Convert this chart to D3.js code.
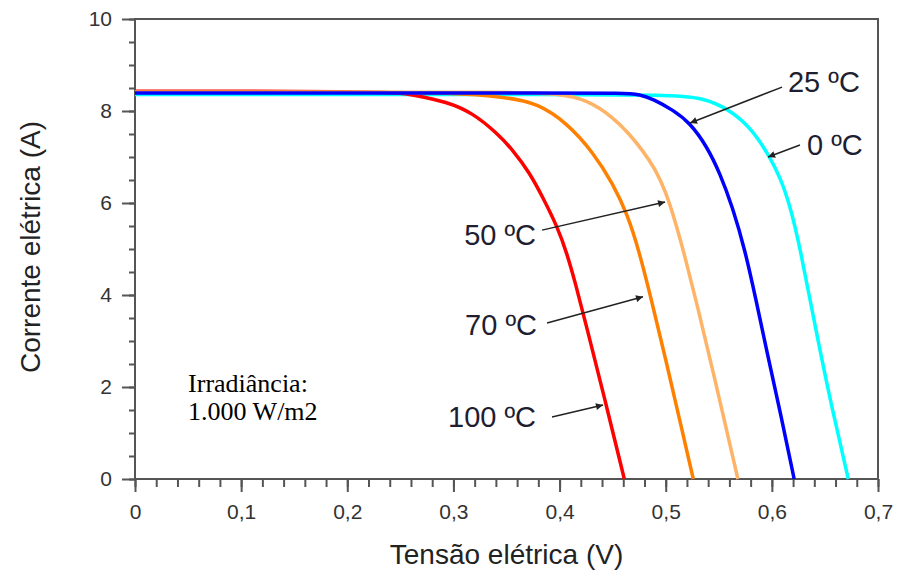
<!DOCTYPE html>
<html>
<head>
<meta charset="utf-8">
<script src="https://cdn.jsdelivr.net/npm/d3@7"></script>
<style>
  body { margin: 0; background: #fff; }
  svg { display: block; }
</style>
</head>
<body>
<svg id="chart" width="900" height="576"></svg>
<script>
// curves: voltage (V) and current (A)
const v0 = [0, 0.2, 0.4, 0.5, 0.535, 0.561, 0.582, 0.598, 0.608, 0.617, 0.626, 0.642, 0.656, 0.672];
const i0 = [8.36, 8.36, 8.36, 8.35, 8.3, 8.02, 7.59, 7.0, 6.55, 5.95, 5.1, 3.17, 1.6, 0];

const v25 = [0, 0.2, 0.4, 0.46, 0.476, 0.488, 0.507, 0.523, 0.539, 0.551, 0.563, 0.575, 0.585, 0.595, 0.608, 0.621];
const i25 = [8.39, 8.39, 8.39, 8.39, 8.36, 8.26, 8.02, 7.74, 7.22, 6.65, 5.91, 4.95, 3.9, 2.8, 1.45, 0];

const v50 = [0, 0.2, 0.35, 0.4, 0.426, 0.45, 0.465, 0.478, 0.49, 0.5, 0.509, 0.518, 0.53, 0.545, 0.568];
const i50 = [8.41, 8.41, 8.41, 8.38, 8.24, 7.87, 7.52, 7.15, 6.75, 6.25, 5.6, 4.85, 3.75, 2.3, 0];

const v70 = [0, 0.2, 0.3, 0.35, 0.379, 0.407, 0.432, 0.45, 0.464, 0.475, 0.487, 0.5, 0.513, 0.526];
const i70 = [8.41, 8.41, 8.4, 8.3, 8.17, 7.74, 7.09, 6.43, 5.75, 4.95, 3.85, 2.6, 1.3, 0];

const v100 = [0, 0.1, 0.2, 0.25, 0.262, 0.294, 0.318, 0.341, 0.356, 0.372, 0.384, 0.398, 0.407, 0.415, 0.425, 0.443, 0.461];
const i100 = [8.43, 8.43, 8.42, 8.4, 8.35, 8.2, 7.96, 7.52, 7.15, 6.65, 6.13, 5.48, 4.9, 4.25, 3.35, 1.7, 0];

const xTicks = [0, 0.1, 0.2, 0.3, 0.4, 0.5, 0.6, 0.7];
const yTicks = [0, 2, 4, 6, 8, 10];

// labels with arrows, in data units: label anchor, arrow start, arrow tip
const notes = [
  { text: "25 ºC",  anchor: "start", lx: 0.6152, ly: 8.41, x1: 0.6096, y1: 8.52, x2: 0.5229, y2: 7.74 },
  { text: "0 ºC",   anchor: "start", lx: 0.6331, ly: 7.04, x1: 0.6265, y1: 7.26, x2: 0.5964, y2: 7.0 },
  { text: "50 ºC",  anchor: "end",   lx: 0.3778, ly: 5.09, x1: 0.3835, y1: 5.41, x2: 0.4994, y2: 6.02 },
  { text: "70 ºC",  anchor: "end",   lx: 0.3787, ly: 3.13, x1: 0.3882, y1: 3.39, x2: 0.4786, y2: 3.96 },
  { text: "100 ºC", anchor: "end",   lx: 0.3778, ly: 1.13, x1: 0.3929, y1: 1.35, x2: 0.4409, y2: 1.61 }
];

const series = [
  { v: v0, i: i0, color: "#00ffff" },
  { v: v100, i: i100, color: "#ff0000" },
  { v: v70, i: i70, color: "#ff8000" },
  { v: v50, i: i50, color: "#ffb366" },
  { v: v25, i: i25, color: "#0000ff" }
];

const svg = d3.select("#chart");
const plotL = 135, plotR = 878, plotT = 19, plotB = 479;

const x = d3.scaleLinear().domain([0, 0.7]).range([plotL, plotR]);
const y = d3.scaleLinear().domain([0, 10]).range([plotB, plotT]);

const pt = d3.formatLocale({ decimal: ",", thousands: ".", grouping: [3], currency: ["", ""] });
const fmtX = v => v === 0 ? "0" : pt.format(".1f")(v);

const axisColor = "#555";
const labelFont = "'Liberation Sans', Arial, sans-serif";

// minor ticks
svg.append("g")
  .attr("transform", `translate(0,${plotB})`)
  .call(d3.axisBottom(x).tickValues(d3.range(0, 36).map(k => k * 0.02)).tickSize(8).tickFormat(""))
  .call(g => g.select(".domain").remove())
  .call(g => g.selectAll("line").attr("stroke", axisColor).attr("stroke-width", 2));

svg.append("g")
  .attr("transform", `translate(${plotL},0)`)
  .call(d3.axisLeft(y).tickValues(d3.range(0, 21).map(k => k * 0.5)).tickSize(6).tickFormat(""))
  .call(g => g.select(".domain").remove())
  .call(g => g.selectAll("line").attr("stroke", axisColor).attr("stroke-width", 2));

// major ticks
svg.append("g")
  .attr("transform", `translate(0,${plotB})`)
  .call(d3.axisBottom(x).tickValues(xTicks).tickSize(13).tickPadding(12).tickFormat(fmtX))
  .call(g => g.select(".domain").remove())
  .call(g => g.selectAll("line").attr("stroke", axisColor).attr("stroke-width", 2))
  .call(g => g.selectAll("text").attr("fill", "#333").attr("font-size", 21).attr("font-family", labelFont));

svg.append("g")
  .attr("transform", `translate(${plotL},0)`)
  .call(d3.axisLeft(y).tickValues(yTicks).tickSize(13).tickPadding(10).tickFormat(d3.format("d")))
  .call(g => g.select(".domain").remove())
  .call(g => g.selectAll("line").attr("stroke", axisColor).attr("stroke-width", 2))
  .call(g => g.selectAll("text").attr("fill", "#333").attr("font-size", 21).attr("font-family", labelFont));

// frame
svg.append("rect")
  .attr("x", plotL).attr("y", plotT)
  .attr("width", plotR - plotL).attr("height", plotB - plotT)
  .attr("fill", "none").attr("stroke", axisColor).attr("stroke-width", 2);

// curves
const line = d3.line().curve(d3.curveBasis);
svg.append("g")
  .selectAll("path")
  .data(series)
  .enter()
  .append("path")
  .attr("d", s => line(s.v.map((v, k) => [x(v), y(s.i[k])])))
  .attr("fill", "none")
  .attr("stroke", s => s.color)
  .attr("stroke-width", 3.5);

// arrows
svg.append("defs").append("marker")
  .attr("id", "head")
  .attr("viewBox", "0 0 10 10")
  .attr("refX", 10).attr("refY", 5)
  .attr("markerWidth", 9).attr("markerHeight", 7)
  .attr("markerUnits", "userSpaceOnUse")
  .attr("orient", "auto")
  .append("path")
  .attr("d", "M0,0 L10,5 L0,10 Z")
  .attr("fill", "#222");

const noteG = svg.append("g");
noteG.selectAll("line")
  .data(notes)
  .enter()
  .append("line")
  .attr("x1", d => x(d.x1)).attr("y1", d => y(d.y1))
  .attr("x2", d => x(d.x2)).attr("y2", d => y(d.y2))
  .attr("stroke", "#222")
  .attr("stroke-width", 1.5)
  .attr("marker-end", "url(#head)");

noteG.selectAll("text")
  .data(notes)
  .enter()
  .append("text")
  .attr("x", d => x(d.lx)).attr("y", d => y(d.ly))
  .attr("text-anchor", d => d.anchor)
  .attr("font-family", labelFont)
  .attr("font-size", 29)
  .attr("fill", "#1e1e30")
  .text(d => d.text);

// irradiance note
const irr = svg.append("text")
  .attr("font-family", "'Liberation Serif', 'Times New Roman', serif")
  .attr("font-size", 26)
  .attr("fill", "#000");
irr.append("tspan").attr("x", x(0.05)).attr("y", y(1.89)).text("Irradiância:");
irr.append("tspan").attr("x", x(0.05)).attr("y", y(1.28)).text("1.000 W/m2");

// axis titles
svg.append("text")
  .attr("x", (plotL + plotR) / 2).attr("y", 564)
  .attr("text-anchor", "middle")
  .attr("font-family", labelFont).attr("font-size", 28)
  .attr("fill", "#222")
  .text("Tensão elétrica (V)");

svg.append("text")
  .attr("transform", "translate(40,247) rotate(-90)")
  .attr("text-anchor", "middle")
  .attr("font-family", labelFont).attr("font-size", 28)
  .attr("fill", "#222")
  .text("Corrente elétrica (A)");
</script>
</body>
</html>
